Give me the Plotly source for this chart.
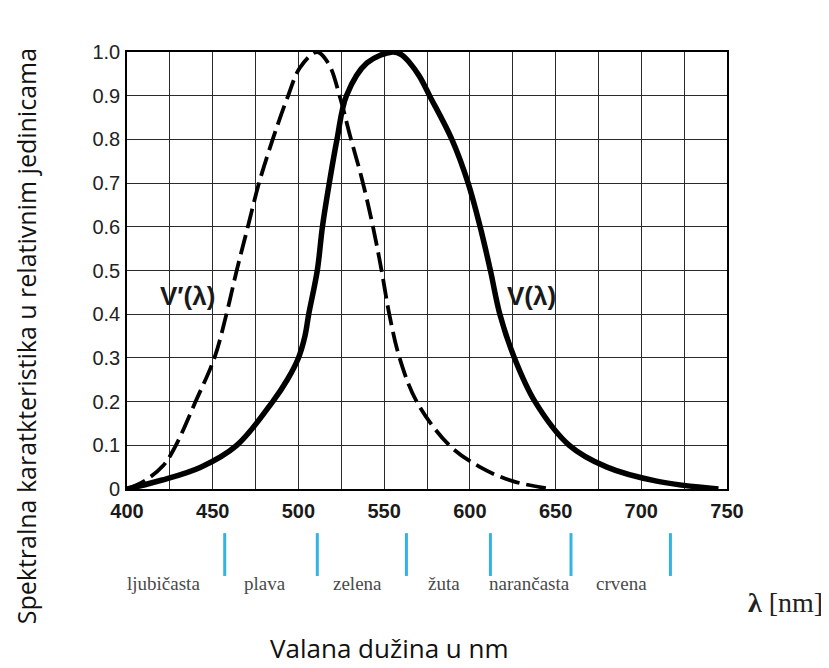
import plotly.graph_objects as go

# Photopic V(lambda) - solid
v_x = [400, 420, 443, 464, 485, 493.5, 500, 503.8, 506, 511, 514, 518, 522.5, 528, 540, 555,
       560, 565, 570.5, 576.5, 589.5, 599, 606, 612, 617.5, 626, 638, 658, 680, 709, 745]
v_y = [0, 0.02, 0.05, 0.1, 0.2, 0.25, 0.3, 0.35, 0.4, 0.5, 0.6, 0.7, 0.8, 0.9, 0.975, 1.0,
       0.994, 0.975, 0.945, 0.9, 0.8, 0.7, 0.6, 0.5, 0.4, 0.3, 0.2, 0.1, 0.05, 0.018, 0]

# Scotopic V'(lambda) - dashed
vs_x = [400, 410, 421, 428, 440, 451, 458, 464, 470.5, 477, 485, 494, 501, 511, 518, 524,
        530, 537, 543.5, 548.5, 553, 559, 569, 588, 606, 625, 648]
vs_y = [0, 0.018, 0.053, 0.096, 0.2, 0.3, 0.4, 0.5, 0.6, 0.7, 0.8, 0.9, 0.965, 1.0, 0.97, 0.9,
        0.81, 0.71, 0.6, 0.5, 0.4, 0.3, 0.2, 0.1, 0.05, 0.018, 0]

x_ticks = [400, 425, 450, 475, 500, 525, 550, 575, 600, 625, 650, 675, 700, 725, 750]
x_tick_text = ["400", "", "450", "", "500", "", "550", "", "600", "", "650", "", "700", "", "750"]
y_ticks = [0, 0.1, 0.2, 0.3, 0.4, 0.5, 0.6, 0.7, 0.8, 0.9, 1.0]
y_tick_text = ["0", "0.1", "0.2", "0.3", "0.4", "0.5", "0.6", "0.7", "0.8", "0.9", "1.0"]

band_edges = [398, 457, 511, 563, 612, 659, 717]
band_names = ["ljubičasta", "plava", "zelena", "žuta", "narančasta", "crvena"]
band_label_x = [421, 480.5, 534.5, 585, 635, 688.5]

fig = go.Figure()
fig.add_trace(go.Scatter(x=vs_x, y=vs_y, mode="lines", line=dict(color="black", width=3.8, dash="20px,7px",
                                                                  shape="spline", smoothing=1.0),
                         showlegend=False, hoverinfo="skip"))
fig.add_trace(go.Scatter(x=v_x, y=v_y, mode="lines", line=dict(color="black", width=5.5, shape="spline", smoothing=1.0),
                         showlegend=False, hoverinfo="skip"))

for e in band_edges:
    fig.add_shape(type="line", xref="x", yref="paper", x0=e, x1=e, y0=-0.101, y1=-0.199,
                  line=dict(color="#33b3e3", width=3))

for name, bx in zip(band_names, band_label_x):
    fig.add_annotation(x=bx, y=-0.217, xref="x", yref="paper", text=name, showarrow=False,
                       xanchor="center", yanchor="middle",
                       font=dict(family="Liberation Serif", size=19, color="#4a4a4a"))

fig.add_annotation(x=435, y=0.442, xref="x", yref="y", text="<b>V′(λ)</b>", showarrow=False,
                   xanchor="center", yanchor="middle",
                   font=dict(family="Liberation Sans", size=26, color="#1a1a1a"))
fig.add_annotation(x=635.7, y=0.442, xref="x", yref="y", text="<b>V(λ)</b>", showarrow=False,
                   xanchor="center", yanchor="middle",
                   font=dict(family="Liberation Sans", size=26, color="#1a1a1a"))

fig.add_annotation(x=1.098, y=-0.259, xref="paper", yref="paper", text="<b>λ</b> [nm]", showarrow=False,
                   xanchor="center", yanchor="middle",
                   font=dict(family="Liberation Serif", size=28, color="#222"))

fig.add_annotation(x=0.438, y=-0.364, xref="paper", yref="paper", text="Valana dužina u nm", showarrow=False,
                   xanchor="center", yanchor="middle",
                   font=dict(family="Open Sans", size=26, color="#111"))
fig.add_annotation(x=-0.168, y=0.350, xref="paper", yref="paper",
                   text="Spektralna karatkteristika u relativnim jedinicama",
                   showarrow=False, textangle=-90, xanchor="center", yanchor="middle",
                   font=dict(family="Open Sans", size=25, color="#111"))

fig.update_xaxes(range=[400, 750], tickvals=x_ticks, ticktext=x_tick_text, showgrid=True,
                 gridcolor="#2a2a2a", gridwidth=1.4, zeroline=False, showline=True, linecolor="black",
                 linewidth=2.2, mirror=True, ticks="", ticklabelstandoff=3,
                 tickfont=dict(family="Liberation Sans", size=20, color="#1a1a1a", weight="bold"))
fig.update_yaxes(range=[0, 1.0], tickvals=y_ticks, ticktext=y_tick_text, showgrid=True,
                 gridcolor="#2a2a2a", gridwidth=1.4, zeroline=False, showline=True, linecolor="black",
                 linewidth=1.6, mirror=True, ticks="", ticklabelstandoff=1,
                 tickfont=dict(family="Liberation Sans", size=20, color="#222"))

fig.update_layout(width=829, height=668, margin=dict(l=119, r=110, t=44, b=187),
                  plot_bgcolor="white", paper_bgcolor="white")

fig.write_html("out.html")
